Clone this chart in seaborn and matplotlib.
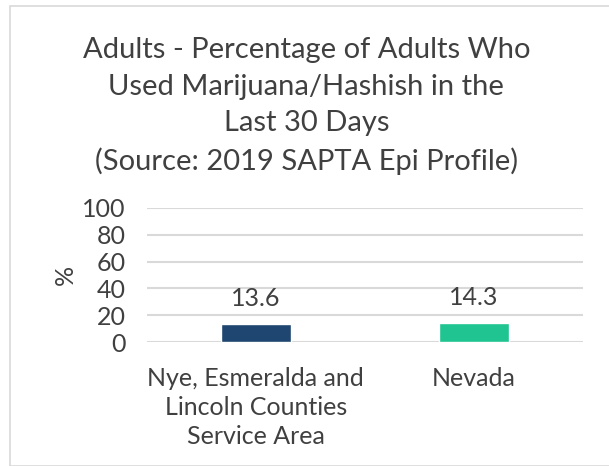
import matplotlib
matplotlib.use("Agg")
import matplotlib.pyplot as plt
import seaborn as sns
import pandas as pd
from matplotlib.patches import Rectangle

# data
areas = ["Nye, Esmeralda and\nLincoln Counties\nService Area", "Nevada"]
pct = [13.6, 14.3]
bar_colors = ["#1E4670", "#1FC490"]
yticks = [0, 20, 40, 60, 80, 100]

title = ("Adults - Percentage of Adults Who\nUsed Marijuana/Hashish in the\n"
         "Last 30 Days\n(Source: 2019 SAPTA Epi Profile)")

sns.set_style("white")
plt.rcParams["font.family"] = ["Lato", "DejaVu Sans"]
txt = "#404040"

df = pd.DataFrame({"area": areas, "pct": pct})

fig = plt.figure(figsize=(6.09, 4.66), dpi=100)
ax = fig.add_axes([0.241, 0.266, 0.716, 0.288])

sns.barplot(data=df, x="area", y="pct", hue="area", palette=bar_colors,
            saturation=1, width=0.32, legend=False, ax=ax, zorder=3)

for c in ax.containers:
    ax.bar_label(c, fmt="%.1f", padding=10, fontsize=18, color=txt)

ax.set_ylim(0, 100)
ax.set_yticks(yticks)
ax.set_xlim(-0.5, 1.5)
ax.yaxis.grid(True, color="#D9D9D9", linewidth=1.5, zorder=0)
for s in ax.spines.values():
    s.set_visible(False)
ax.tick_params(axis="y", labelsize=18, labelcolor=txt, length=0, pad=15)
ax.tick_params(axis="x", labelsize=18, labelcolor=txt, length=0, pad=18)
for lab in ax.get_xticklabels():
    lab.set_linespacing(1.32)
ax.set_xlabel("")
ax.set_ylabel("%", fontsize=18, color=txt, labelpad=4)

fig.text(0.503, 0.92, title, ha="center", va="top", fontsize=21,
         color=txt, linespacing=1.5)

# outer chart frame
fig.patches.append(Rectangle((10 / 609, 0), 1.0, 1 - 6 / 466,
                             transform=fig.transFigure, fill=False,
                             edgecolor="#D9D9D9", linewidth=1.2))

fig.savefig("out.png", dpi=100)
